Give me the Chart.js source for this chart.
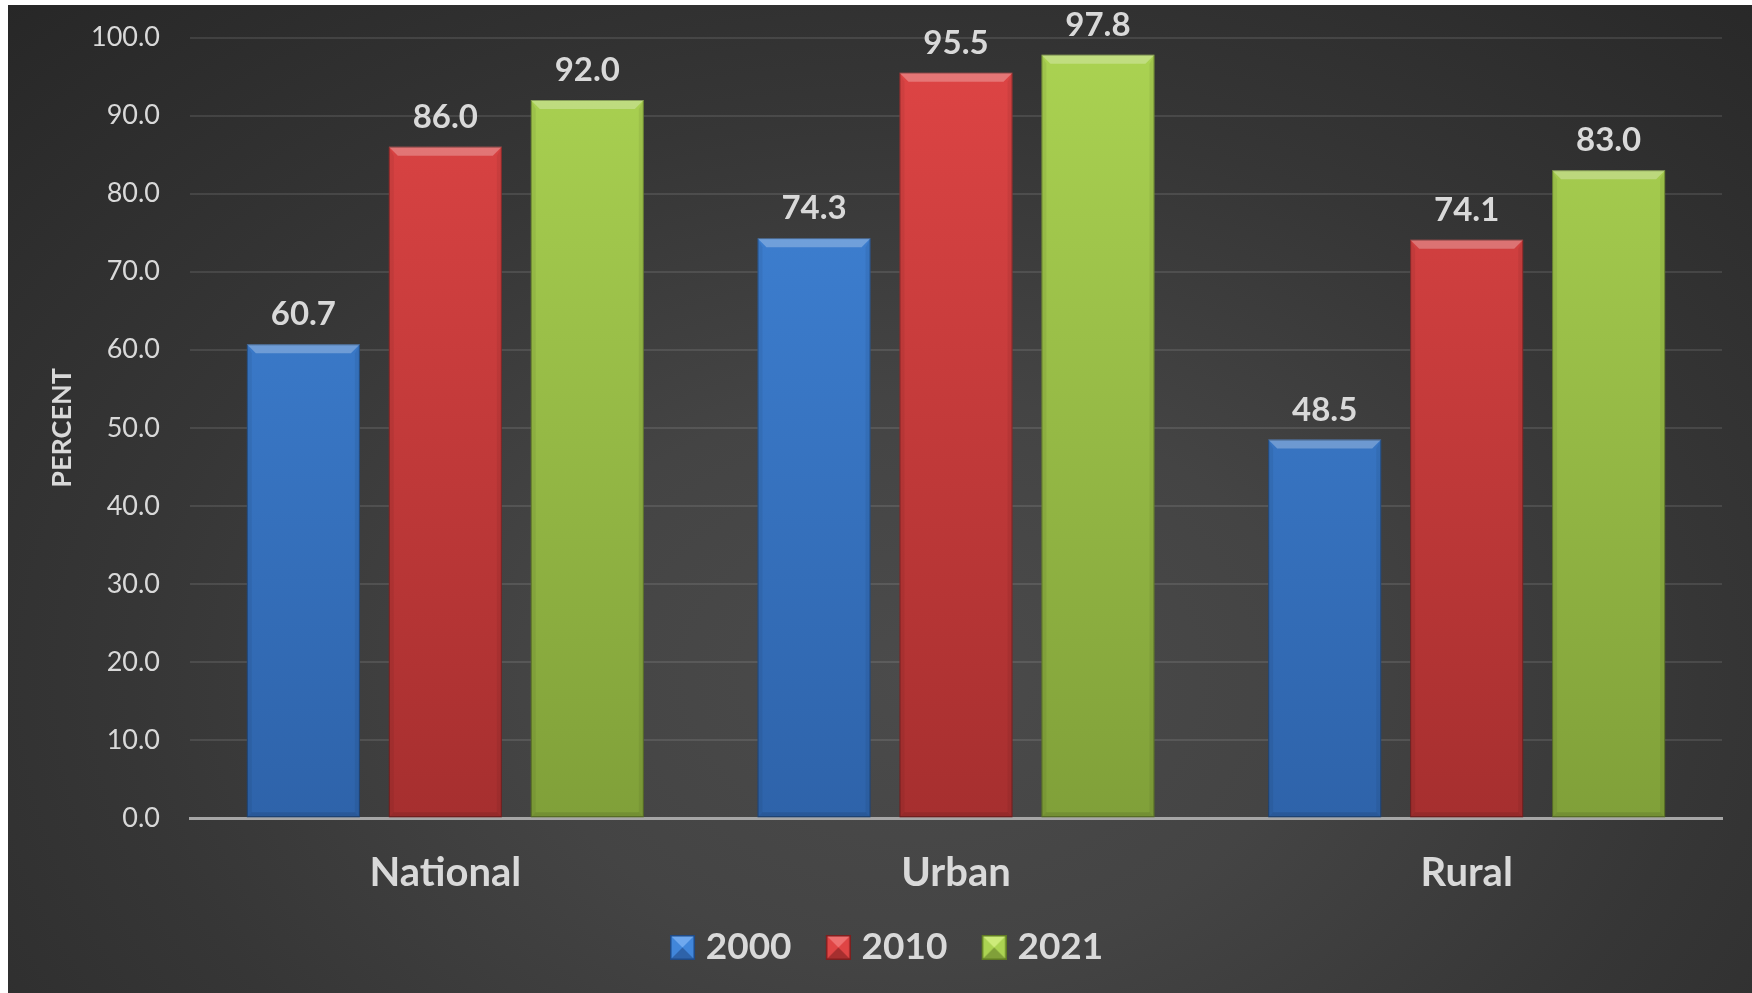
<!DOCTYPE html>
<html>
<head>
<meta charset="utf-8">
<script src="https://cdn.jsdelivr.net/npm/chart.js@4.4.1/dist/chart.umd.min.js"></script>
<style>
  html, body { margin: 0; padding: 0; background: #ffffff; width: 1752px; height: 993px; overflow: hidden; }
  #wrap {
    position: absolute; left: 8px; top: 5px; width: 1744px; height: 988px;
    background: radial-gradient(ellipse 75% 95% at 52% 68%, #4b4b4b 0%, #444444 30%, #363636 60%, #272727 100%);
  }
  canvas { display: block; }
</style>
</head>
<body>
<div id="wrap"><canvas id="c" width="1744" height="988"></canvas></div>
<script>
const categories = ["National", "Urban", "Rural"];
const seriesNames = ["2000", "2010", "2021"];
const values2000 = [60.7, 74.3, 48.5];
const values2010 = [86.0, 95.5, 74.1];
const values2021 = [92.0, 97.8, 83.0];
const yTicks = [0, 10, 20, 30, 40, 50, 60, 70, 80, 90, 100];

const FONT = "Lato, 'Open Sans', 'DejaVu Sans', sans-serif";
const TEXT = "#d9d9d9";

const palettes = [
  { top: "#4186da", bottom: "#2e63aa", light: "#6fa8ee", dark: "#1f4a86" },
  { top: "#df4545", bottom: "#a62f2f", light: "#ee7070", dark: "#7e1f1f" },
  { top: "#abd352", bottom: "#80a039", light: "#cdeb7a", dark: "#5e7a22" }
];

function barGradient(i) {
  return function(ctx) {
    const chart = ctx.chart;
    const area = chart.chartArea;
    if (!area) return palettes[i].top;
    const g = chart.ctx.createLinearGradient(0, area.top, 0, area.bottom);
    g.addColorStop(0, palettes[i].top);
    g.addColorStop(1, palettes[i].bottom);
    return g;
  };
}

// legend icon: canvas wider than the square so the square sits close to the label text
function legendIcon(p) {
  const s = 25, W = 54, off = W - s;
  const cv = document.createElement("canvas");
  cv.width = W; cv.height = s;
  const c = cv.getContext("2d");
  const m = s / 2;
  c.translate(off, 0);
  c.fillStyle = p.top; c.fillRect(0, 0, s, s);
  c.fillStyle = p.light; c.beginPath(); c.moveTo(0,0); c.lineTo(s,0); c.lineTo(m,m); c.closePath(); c.fill();
  c.fillStyle = p.bottom; c.beginPath(); c.moveTo(0,s); c.lineTo(m,m); c.lineTo(s,s); c.closePath(); c.fill();
  c.strokeStyle = p.dark; c.lineWidth = 1.5; c.strokeRect(0.75, 0.75, s - 1.5, s - 1.5);
  return cv;
}
const icons = palettes.map(legendIcon);

const legendShift = {
  id: "legendShift",
  afterLayout(chart) {
    if (chart.legend) { chart.legend.left += 11; chart.legend.right += 11; }
  }
};

const bevelPlugin = {
  id: "bevelAndLabels",
  afterDatasetsDraw(chart) {
    const ctx = chart.ctx;
    chart.data.datasets.forEach((ds, di) => {
      const meta = chart.getDatasetMeta(di);
      meta.data.forEach((bar, idx) => {
        const w = bar.width;
        const x0 = bar.x - w / 2, x1 = bar.x + w / 2;
        const y0 = bar.y, y1 = bar.base;
        const d = 9, s = 5;
        ctx.save();
        ctx.fillStyle = "rgba(255,255,255,0.27)";
        ctx.beginPath();
        ctx.moveTo(x0, y0); ctx.lineTo(x1, y0); ctx.lineTo(x1 - d, y0 + d); ctx.lineTo(x0 + d, y0 + d);
        ctx.closePath(); ctx.fill();
        ctx.fillStyle = "rgba(0,0,0,0.06)";
        ctx.beginPath();
        ctx.moveTo(x0, y0); ctx.lineTo(x0 + s, y0 + d); ctx.lineTo(x0 + s, y1 - s); ctx.lineTo(x0, y1);
        ctx.closePath(); ctx.fill();
        ctx.beginPath();
        ctx.moveTo(x1, y0); ctx.lineTo(x1 - s, y0 + d); ctx.lineTo(x1 - s, y1 - s); ctx.lineTo(x1, y1);
        ctx.closePath(); ctx.fill();
        ctx.fillStyle = "rgba(0,0,0,0.10)";
        ctx.beginPath();
        ctx.moveTo(x0, y1); ctx.lineTo(x0 + s, y1 - s); ctx.lineTo(x1 - s, y1 - s); ctx.lineTo(x1, y1);
        ctx.closePath(); ctx.fill();
        ctx.strokeStyle = "rgba(0,0,0,0.30)";
        ctx.lineWidth = 1;
        ctx.strokeRect(x0 + 0.5, y0 + 0.5, w - 1, y1 - y0 - 1);
        ctx.fillStyle = TEXT;
        ctx.font = "bold 33px " + FONT;
        ctx.textAlign = "center";
        ctx.textBaseline = "alphabetic";
        ctx.fillText(ds.data[idx].toFixed(1), bar.x, y0 - 19);
        ctx.restore();
      });
    });
  }
};

const datasets = [values2000, values2010, values2021].map((vals, i) => ({
  label: seriesNames[i],
  data: vals,
  backgroundColor: barGradient(i),
  borderWidth: 0,
  categoryPercentage: 0.834,
  barPercentage: 0.796,
  pointStyle: icons[i]
}));

new Chart(document.getElementById("c"), {
  type: "bar",
  data: { labels: categories, datasets },
  plugins: [bevelPlugin, legendShift],
  options: {
    responsive: false,
    animation: false,
    events: [],
    layout: { padding: { top: 32.5, right: 30, left: 0, bottom: 17 } },
    plugins: {
      tooltip: { enabled: false },
      legend: {
        position: "bottom",
        labels: {
          usePointStyle: true,
          pointStyleWidth: 38.5,
          boxWidth: 25,
          boxHeight: 25,
          padding: 13,
          color: TEXT,
          font: { family: FONT, size: 37, weight: "bold" }
        }
      }
    },
    scales: {
      x: {
        grid: { display: false, drawTicks: false },
        border: { display: true, color: "#a6a6a6", width: 3 },
        afterFit(scale) { scale.height -= 11; },
        ticks: { color: TEXT, padding: 42, font: { family: FONT, size: 40, weight: "bold", lineHeight: 0.62 } }
      },
      y: {
        min: 0, max: 100,
        afterBuildTicks(scale) { scale.ticks = yTicks.map(v => ({ value: v })); },
        afterFit(scale) { scale.width = 182; scale.paddingTop = 0; scale.paddingBottom = 0; },
        grid: {
          drawTicks: false,
          color: (c) => c.tick && c.tick.value === 0 ? "rgba(0,0,0,0)" : "rgba(255,255,255,0.10)",
          lineWidth: 2
        },
        border: { display: false },
        ticks: {
          color: TEXT, padding: 30,
          font: { family: FONT, size: 27 },
          callback: (v) => Number(v).toFixed(1)
        },
        title: {
          display: true, text: "PERCENT", color: TEXT,
          font: { family: FONT, size: 27, weight: "bold" },
          padding: { top: 38, bottom: 0 }
        }
      }
    }
  }
});
</script>
</body>
</html>
